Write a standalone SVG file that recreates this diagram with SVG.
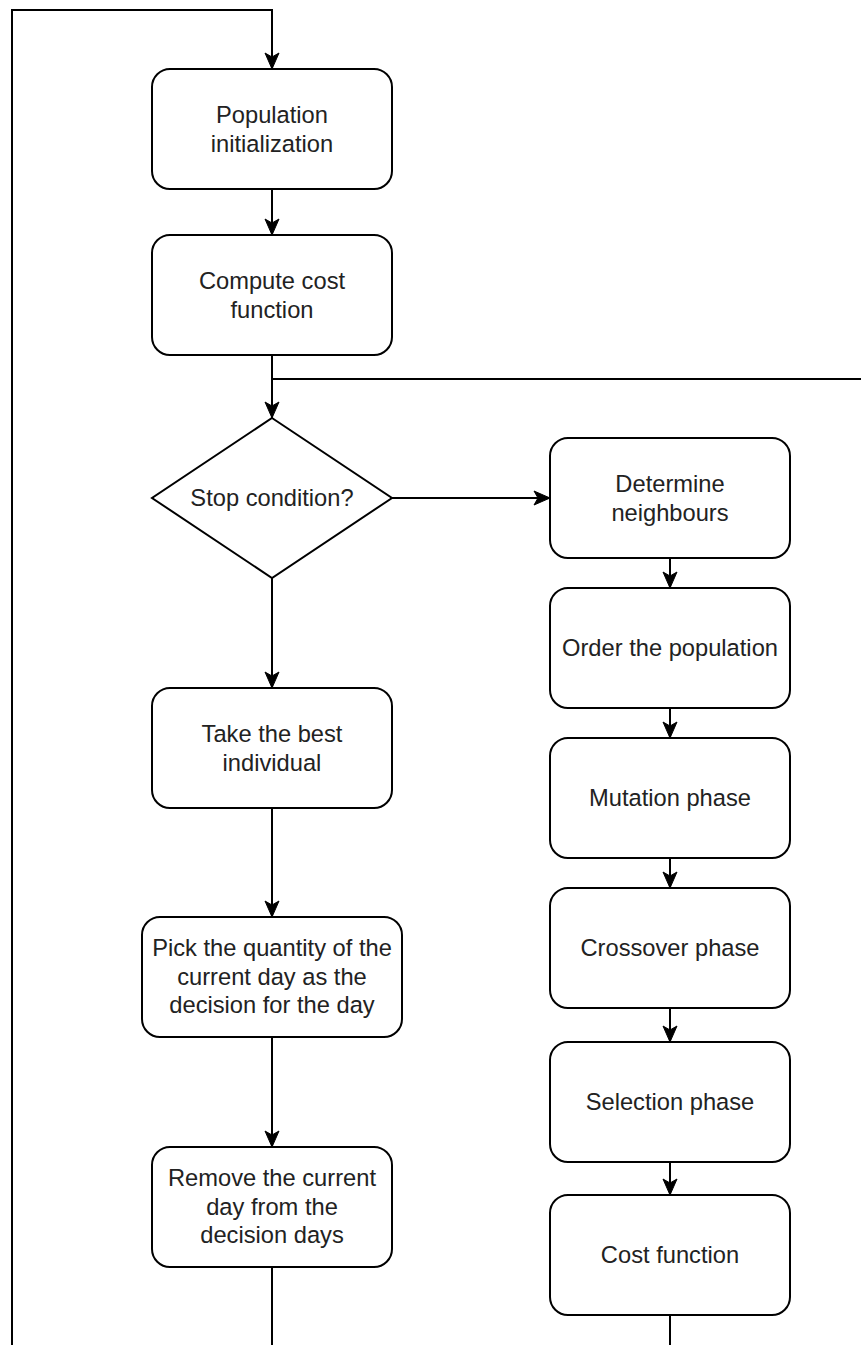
<svg xmlns="http://www.w3.org/2000/svg" width="861" height="1345" viewBox="0 0 861 1345">
<style>
.box{fill:#fff;stroke:#000;stroke-width:2}
.lbl{font-family:"Liberation Sans",Arial,sans-serif;font-size:23.7px;fill:#222;text-anchor:middle}
.ln{fill:none;stroke:#000;stroke-width:2}
.arr{fill:none;stroke:#000;stroke-width:2;marker-end:url(#ah)}
</style>
<defs>
<marker id="ah" markerUnits="userSpaceOnUse" viewBox="-17 -8 18 16" refX="0" refY="0" markerWidth="18" markerHeight="16" orient="auto">
<path d="M0,0 L-16,-7 L-12,0 L-16,7 Z" fill="#000" stroke="#000" stroke-width="1"/>
</marker>
</defs>
<rect width="861" height="1345" fill="#fff"/>
<g id="connectors">
<path class="arr" d="M12,1345 L12,10 L272,10 L272,69"/>
<path class="arr" d="M272,189 L272,235"/>
<path class="arr" d="M272,355 L272,418"/>
<path class="ln" d="M272,379 L861,379"/>
<path class="arr" d="M392,498 L550,498"/>
<path class="arr" d="M272,578 L272,688"/>
<path class="arr" d="M272,808 L272,917"/>
<path class="arr" d="M272,1037 L272,1147"/>
<path class="ln" d="M272,1267 L272,1345"/>
<path class="arr" d="M670,558 L670,588"/>
<path class="arr" d="M670,708 L670,738"/>
<path class="arr" d="M670,858 L670,888"/>
<path class="arr" d="M670,1008 L670,1042"/>
<path class="arr" d="M670,1162 L670,1195"/>
<path class="ln" d="M670,1315 L670,1345"/>
</g>
<g id="pop-init">
<rect class="box" x="152" y="69" width="240" height="120" rx="18"/>
<text class="lbl" x="272" y="123">Population</text>
<text class="lbl" x="272" y="152">initialization</text>
</g>
<g id="compute-cost">
<rect class="box" x="152" y="235" width="240" height="120" rx="18"/>
<text class="lbl" x="272" y="289">Compute cost</text>
<text class="lbl" x="272" y="318">function</text>
</g>
<g id="stop-condition">
<polygon class="box" points="272,418 392,498 272,578 152,498"/>
<text class="lbl" x="272" y="506">Stop condition?</text>
</g>
<g id="take-best">
<rect class="box" x="152" y="688" width="240" height="120" rx="18"/>
<text class="lbl" x="272" y="742">Take the best</text>
<text class="lbl" x="272" y="771">individual</text>
</g>
<g id="pick-quantity">
<rect class="box" x="142" y="917" width="260" height="120" rx="18"/>
<text class="lbl" x="272" y="956">Pick the quantity of the</text>
<text class="lbl" x="272" y="984.5">current day as the</text>
<text class="lbl" x="272" y="1013">decision for the day</text>
</g>
<g id="remove-day">
<rect class="box" x="152" y="1147" width="240" height="120" rx="18"/>
<text class="lbl" x="272" y="1186">Remove the current</text>
<text class="lbl" x="272" y="1214.5">day from the</text>
<text class="lbl" x="272" y="1243">decision days</text>
</g>
<g id="determine-neighbours">
<rect class="box" x="550" y="438" width="240" height="120" rx="18"/>
<text class="lbl" x="670" y="492">Determine</text>
<text class="lbl" x="670" y="521">neighbours</text>
</g>
<g id="order-population">
<rect class="box" x="550" y="588" width="240" height="120" rx="18"/>
<text class="lbl" x="670" y="656">Order the population</text>
</g>
<g id="mutation">
<rect class="box" x="550" y="738" width="240" height="120" rx="18"/>
<text class="lbl" x="670" y="806">Mutation phase</text>
</g>
<g id="crossover">
<rect class="box" x="550" y="888" width="240" height="120" rx="18"/>
<text class="lbl" x="670" y="956">Crossover phase</text>
</g>
<g id="selection">
<rect class="box" x="550" y="1042" width="240" height="120" rx="18"/>
<text class="lbl" x="670" y="1110">Selection phase</text>
</g>
<g id="cost-function">
<rect class="box" x="550" y="1195" width="240" height="120" rx="18"/>
<text class="lbl" x="670" y="1263">Cost function</text>
</g>
</svg>
